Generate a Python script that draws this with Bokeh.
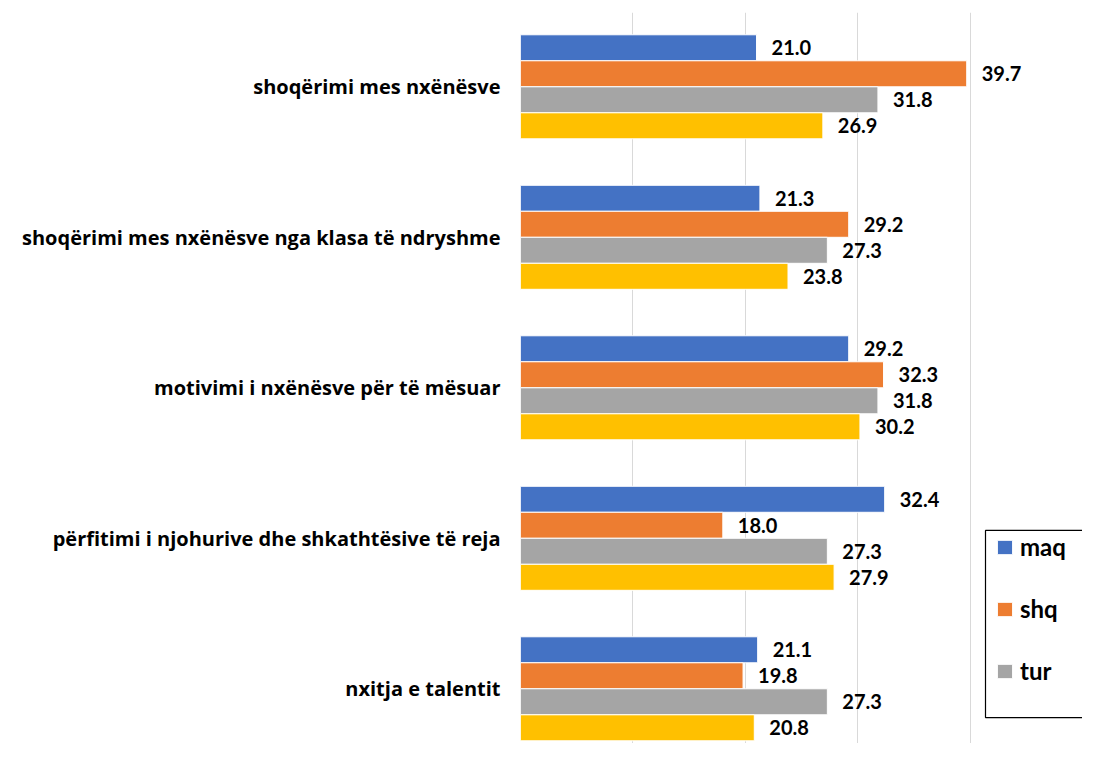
from bokeh.plotting import figure
from bokeh.models import Range1d, FixedTicker, Legend, LegendItem
from bokeh.core.properties import value
from bokeh.embed import file_html
from bokeh.resources import INLINE

categories = [
    "shoqërimi mes nxënësve",
    "shoqërimi mes nxënësve nga klasa të ndryshme",
    "motivimi i nxënësve për të mësuar",
    "përfitimi i njohurive dhe shkathtësive të reja",
    "nxitja e talentit",
]
series_names = ["maq", "shq", "tur", "other"]
maq = [21.0, 21.3, 29.2, 32.4, 21.1]
shq = [39.7, 29.2, 32.3, 18.0, 19.8]
tur = [31.8, 27.3, 31.8, 27.3, 27.3]
other = [26.9, 23.8, 30.2, 27.9, 20.8]
colors = ["#4472C4", "#ED7D31", "#A5A5A5", "#FFC000"]
grid_ticks = [0, 10, 20, 30, 40, 50]

FONT = "Lato"
CAT_FONT = "Open Sans"

p = figure(width=1082, height=743, output_backend="svg", toolbar_location=None,
           x_range=Range1d(0, 50.0), y_range=Range1d(4.3635, -0.4937),
           min_border_left=520, min_border_top=12, min_border_bottom=0,
           min_border_right=0)
p.outline_line_color = None
p.background_fill_color = "white"

bh = 0.1728
renderers = []
for j, (name, vals, col) in enumerate(zip(series_names, [maq, shq, tur, other], colors)):
    ys = [i + (j - 1.5) * bh for i in range(len(categories))]
    r = p.hbar(y=ys, left=0, right=vals, height=bh, fill_color=col,
               line_color="white", line_width=1)
    renderers.append(r)
    p.text(x=vals, y=ys, text=[f"{v:.1f}" for v in vals], x_offset=15,
           text_baseline="middle", text_align="left", text_color="black",
           text_font=value(FONT), text_font_style="bold", text_font_size="20px")

p.xaxis.visible = False
p.xgrid.ticker = FixedTicker(ticks=grid_ticks)
p.xgrid.grid_line_color = "#D9D9D9"
p.xgrid.grid_line_width = 1
p.ygrid.visible = False

p.yaxis.ticker = FixedTicker(ticks=list(range(len(categories))))
p.yaxis.major_label_overrides = {i: c for i, c in enumerate(categories)}
p.yaxis.axis_line_color = None
p.yaxis.major_tick_line_color = None
p.yaxis.minor_tick_line_color = None
p.yaxis.major_tick_out = 0
p.yaxis.major_label_standoff = 20
p.yaxis.major_label_text_font = CAT_FONT
p.yaxis.major_label_text_font_style = "bold"
p.yaxis.major_label_text_font_size = "20px"
p.yaxis.major_label_text_color = "black"

# legend frame (cut off on the right like the original)
p.quad(left=[41.37], right=[60], top=[2.948], bottom=[4.191],
       fill_color=None, line_color="black", line_width=1.2)

legend = Legend(items=[LegendItem(label=series_names[k], renderers=[renderers[k]]) for k in range(3)],
                location=(475, 58), border_line_color=None, background_fill_alpha=0,
                padding=0, margin=0, spacing=33, label_height=24, glyph_height=18,
                glyph_width=19, label_standoff=6, label_text_font=FONT,
                label_text_font_style="bold", label_text_font_size="24px",
                label_text_color="black")
p.add_layout(legend)

open("out.html", "w").write(file_html(p, INLINE))
